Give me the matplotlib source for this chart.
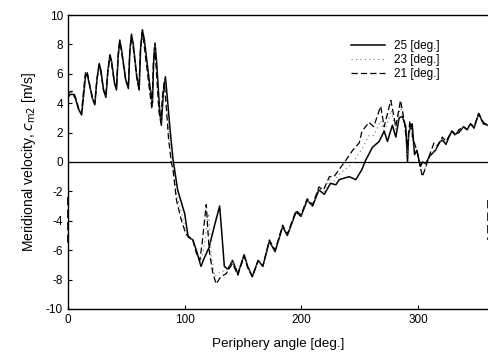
import numpy as np
import matplotlib
matplotlib.use("Agg")
import matplotlib.pyplot as plt

plt.rcParams['font.family'] = ['Liberation Sans', 'DejaVu Sans']
plt.rcParams['axes.unicode_minus'] = False

# 25 deg (solid)
ang_25 = [0, 2, 4.5, 6.5, 9, 11.7, 13.5, 15, 16.5, 18, 21, 23, 24.8, 26.8, 28.3, 30.5,
          32.5, 34.2, 36, 37.5, 39.8, 41.6, 43, 44.4, 46, 49.5, 51.8, 53, 54.4, 56, 59,
          61, 62.3, 63.8, 65.5, 70, 72.4, 73.5, 74.6, 76, 78.5, 80, 81.8, 83.5, 85, 87.5,
          90, 94, 100, 103, 107,
          110, 114, 117, 121, 125, 130, 132, 134, 137, 141, 145.6, 151, 154, 158, 163,
          167, 172.6, 177.5, 184, 188, 195.5, 199.7, 205, 209.7, 215, 219.7, 225, 229.6,
          232.5, 241, 246.7, 252, 255, 261, 266.7, 271, 273.8, 278, 281, 283.8, 286.6,
          289.5, 291, 292, 293.7, 295, 297, 299, 302, 304, 306.6, 310, 315, 318, 320.8,
          324, 326.5, 329, 332, 335, 339, 342, 345, 348, 352, 356, 360]
vel_25 = [4.4, 4.6, 4.6, 4.3, 3.6, 3.2, 4.6, 5.8, 6.0, 5.4, 4.3, 3.9, 5.6, 6.7, 6.2, 4.9,
          4.4, 6.2, 7.3, 6.8, 5.4, 4.9, 7.2, 8.3, 7.6, 5.6, 5.0, 7.5, 8.7, 8.0, 5.8,
          4.9, 7.8, 9.0, 8.3, 5.3, 4.0, 7.0, 8.1, 6.8, 3.6, 2.5, 4.8, 5.8, 4.5, 2.2,
          0.2, -1.9, -3.5, -5.1, -5.3,
          -6.0, -7.1, -6.5, -5.8, -4.5, -3.0, -5.0, -7.1, -7.3, -6.7, -7.6, -6.3, -7.1, -7.8, -6.7,
          -7.1, -5.4, -6.1, -4.4, -5.0, -3.4, -3.7, -2.6, -3.0, -1.9, -2.2, -1.45, -1.55,
          -1.2, -1.0, -1.2, -0.5, 0.1, 1.0, 1.4, 2.1, 1.4, 2.5, 1.7, 3.0, 3.1,
          2.4, 0.0, 2.0, 2.4, 2.6, 0.5, 0.8, -0.3, 0.0, -0.1, 0.4, 0.8, 1.3, 1.5,
          1.2, 1.7, 2.1, 1.9, 2.0, 2.4, 2.2, 2.6, 2.3, 3.3, 2.6, 2.5]

# 23 deg (dotted)
ang_23 = [0, 2, 4.5, 6.5, 9, 11.6, 13.4, 14.9, 16.4, 18, 21, 23, 24.8, 26.7, 28.2, 30.4,
          32.5, 34.2, 36, 37.5, 39.7, 41.6, 43, 44.4, 46, 49.5, 51.8, 53, 54.4, 56, 59,
          61, 62.2, 63.7, 65.4, 69.9, 72.2, 73.3, 74.4, 75.8, 78.2, 79.8, 81.4, 83, 84.5, 86.8,
          89.2, 93, 98, 102, 107,
          110, 114, 117, 120.5, 123, 126, 130, 134, 137, 141, 145.6, 151, 154, 158, 163,
          167, 172.6, 177.5, 184, 188, 195.5, 199.7, 205, 209.7, 215, 219.7, 224, 228,
          232.5, 241, 246, 252, 258, 262, 268, 271, 277, 281, 285, 288,
          291, 293, 296, 299, 303.5, 306.6, 310, 315, 318, 320.8,
          324, 326.5, 329, 332, 335, 339, 342, 345, 348, 352, 356, 360]
vel_23 = [4.5, 4.7, 4.7, 4.3, 3.6, 3.3, 4.7, 5.9, 6.1, 5.4, 4.3, 4.0, 5.6, 6.6, 6.1, 4.9,
          4.5, 6.1, 7.2, 6.7, 5.4, 5.0, 7.1, 8.2, 7.5, 5.6, 5.0, 7.4, 8.6, 7.9, 5.8,
          5.0, 7.7, 8.9, 8.1, 5.1, 3.8, 6.8, 8.0, 6.6, 3.5, 2.6, 4.6, 5.6, 4.2, 1.9,
          0.0, -2.2, -3.7, -5.0, -5.3,
          -6.1, -6.9, -5.5, -3.5, -6.5, -7.8, -7.5, -7.4, -7.3, -6.7, -7.6, -6.3, -7.1, -7.8, -6.7,
          -7.1, -5.4, -6.1, -4.4, -5.0, -3.4, -3.7, -2.6, -3.0, -1.8, -2.0, -1.2, -1.3,
          -0.8, -0.3, 0.2, 0.9, 1.8, 1.8, 2.8, 2.0, 3.5, 2.1, 3.8, 2.7,
          0.5, 2.6, 1.0, 0.8, -0.9, -0.3, 0.4, 0.8, 1.2, 1.6,
          1.3, 1.7, 2.1, 1.9, 2.1, 2.4, 2.2, 2.6, 2.3, 3.3, 2.6, 2.5]

# 21 deg (dashed)
ang_21 = [0, 2, 4.5, 6.5, 9, 11.5, 13.3, 14.8, 16.3, 18, 21, 23, 24.8, 26.6, 28.2, 30.4,
          32.4, 34.1, 35.9, 37.4, 39.7, 41.5, 42.9, 44.3, 45.9, 49.4, 51.7, 52.9, 54.3, 55.9, 58.9,
          60.8, 62, 63.5, 65.2, 69.7, 72, 73.1, 74.2, 75.6, 78, 79.5, 81, 82.5, 84, 86.2,
          88.5, 90, 93, 97, 101, 107,
          110, 113, 115, 118.5, 121, 124, 127, 131, 135.6, 141, 145.6, 151, 154, 158, 163,
          167, 172.6, 177.5, 184, 188, 195.5, 199.7, 205, 209.7, 215, 219, 224, 228,
          232.5, 238, 244, 249.6, 252, 258, 262, 268, 271, 276.7, 281, 285, 288,
          291, 293, 296, 299, 303.7, 306, 310, 313.7, 317, 320.8,
          324, 329, 332, 335, 339, 342, 345, 348, 352, 356, 360]
vel_21 = [4.6, 4.8, 4.8, 4.4, 3.7, 3.3, 4.8, 6.0, 6.2, 5.5, 4.4, 4.0, 5.6, 6.6, 6.1, 4.9,
          4.5, 6.1, 7.2, 6.7, 5.4, 5.0, 7.1, 8.2, 7.5, 5.6, 5.1, 7.4, 8.5, 7.8, 5.8,
          5.0, 7.6, 8.8, 8.0, 5.0, 3.6, 6.6, 7.8, 6.4, 3.4, 2.7, 4.5, 5.4, 4.0, 1.6,
          0.0, -0.5, -2.6, -3.9, -4.9, -5.3,
          -6.2, -6.7, -5.5, -2.9, -6.0, -7.5, -8.3, -7.8, -7.6, -6.9, -7.7, -6.4, -7.2, -7.8, -6.7,
          -7.1, -5.3, -6.0, -4.3, -4.9, -3.3, -3.6, -2.5, -2.9, -1.7, -1.9, -1.0, -1.0,
          -0.5, 0.1, 0.8, 1.3, 2.1, 2.7, 2.4, 3.8, 2.4, 4.2, 2.4, 4.2, 2.9,
          1.0, 2.8, 1.5, 0.8, -1.0, -0.5, 0.5, 1.3, 1.1, 1.7,
          1.4, 2.1, 1.8, 2.2, 2.4, 2.2, 2.6, 2.4, 3.3, 2.7, 2.5]

# stray dashed pieces on the left and right edges
edge_left_ang = [0, 0]
edge_left_vel = [-2.4, -5.8]
edge_right_ang = [360, 360]
edge_right_vel = [-2.6, -5.3]

fig = plt.figure(figsize=(4.89, 3.58), dpi=100)
ax = fig.add_axes([0.139, 0.137, 0.859, 0.821])

ax.axhline(0, color='black', lw=0.9, zorder=1)
ax.plot(ang_25, vel_25, color='black', lw=1.1, ls='-', label='25 [deg.]')
ax.plot(ang_23, vel_23, color='0.45', lw=0.8, ls=(0, (1, 3)), label='23 [deg.]')
ax.plot(ang_21, vel_21, color='black', lw=0.9, ls=(0, (5, 2.5)), label='21 [deg.]')
ax.plot(edge_left_ang, edge_left_vel, color='black', lw=1.2, ls=(0, (5, 2.5)), clip_on=False)
ax.plot(edge_right_ang, edge_right_vel, color='black', lw=1.2, ls=(0, (5, 2.5)), clip_on=False)

ax.set_xlim(0, 360)
ax.set_ylim(-10, 10)
ax.set_xticks([0, 100, 200, 300])
ax.set_yticks(np.arange(-10, 11, 2))
ax.tick_params(direction='in', length=3, labelsize=8.5, width=0.8)
ax.spines['right'].set_visible(False)
for s in ['left', 'bottom', 'top']:
    ax.spines[s].set_linewidth(1.0)

ax.set_xlabel('Periphery angle [deg.]', fontsize=9.7, labelpad=9)
ax.set_ylabel(r'Meridional velocity, $c_{\mathrm{m2}}$ [m/s]', fontsize=10, labelpad=6)

ax.legend(loc='upper right', bbox_to_anchor=(0.91, 0.95), frameon=False, fontsize=8.5,
          handlelength=2.8, labelspacing=0.15, handletextpad=0.8)

fig.savefig('out.png', dpi=100)
